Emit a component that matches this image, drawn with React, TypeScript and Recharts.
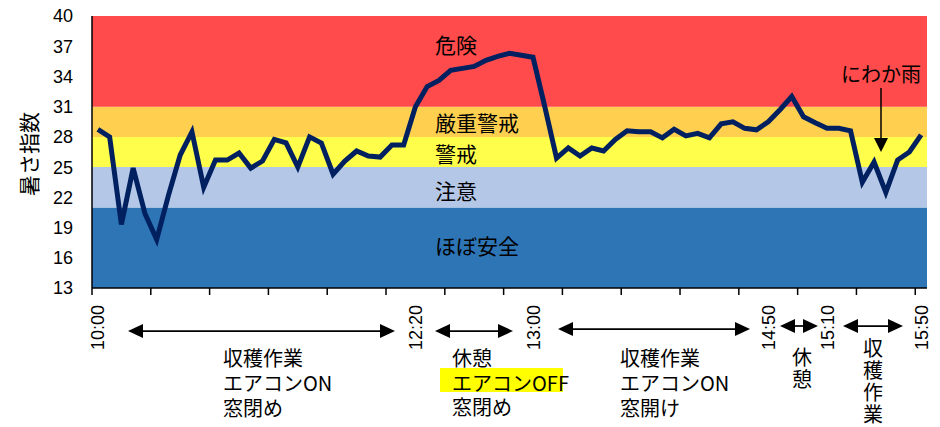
import React from 'react';
import { LineChart, Line, XAxis, YAxis, ReferenceArea } from 'recharts';

// 暑さ指数 (WBGT) readings, one per category, 10:00 -> 15:50
const wbgt = [
  28.75, 28.0, 19.3, 24.9, 20.4, 17.8, 22.2, 26.2, 28.5, 23.0,
  25.7, 25.7, 26.4, 24.9, 25.6, 27.75, 27.4, 25.0, 28.0, 27.4,
  24.3, 25.6, 26.6, 26.1, 26.0, 27.2, 27.2, 31.0, 33.0, 33.6,
  34.6, 34.8, 35.0, 35.6, 36.0, 36.3, 36.1, 35.9, 31.0, 25.9,
  26.9, 26.1, 26.9, 26.6, 27.75, 28.6, 28.5, 28.5, 27.9, 28.75,
  28.1, 28.35, 27.9, 29.3, 29.5, 28.85, 28.7, 29.5, 30.7, 32.0,
  30.0, 29.4, 28.85, 28.85, 28.6, 23.5, 25.5, 22.5, 25.7, 26.5,
  28.2,
];

const yTicks = [13, 16, 19, 22, 25, 28, 31, 34, 37, 40];

// category index where each time label sits
const timeLabels = [
  { at: 0, text: '10:00' },
  { at: 27, text: '12:20' },
  { at: 37, text: '13:00' },
  { at: 57, text: '14:50' },
  { at: 62, text: '15:10' },
  { at: 70, text: '15:50' },
];

// risk bands
const bands = [
  { from: 13, to: 21, color: '#2E75B6' },
  { from: 21, to: 25, color: '#B4C7E7' },
  { from: 25, to: 28, color: '#FFFF4B' },
  { from: 28, to: 31, color: '#FFD050' },
  { from: 31, to: 40, color: '#FF4B4B' },
];

const data = wbgt.map((v, i) => ({ i, v }));
const n = wbgt.length;
// tick marks sit on category boundaries, every 5 categories
const boundaryTicks = Array.from({ length: Math.floor(n / 5) + 1 }, (_, k) => k * 5 - 0.5);

const num = '"Liberation Sans", Arial, sans-serif';
const jp = '"Noto Sans CJK JP", "Noto Sans", sans-serif';

const TimeTick = (props: any) => {
  const { x, payload } = props;
  const item = timeLabels.find((t) => t.at === payload.value);
  return (
    <text
      transform={`translate(${x},305) rotate(-90)`}
      textAnchor="end"
      dy="0.36em"
      fontSize={18}
      fontFamily={num}
      fill="#000"
    >
      {item ? item.text : ''}
    </text>
  );
};

const Arrow2 = ({ x1, x2, y }: { x1: number; x2: number; y: number }) => (
  <g>
    <line x1={x1 + 10} x2={x2 - 10} y1={y} y2={y} stroke="#000" strokeWidth={1.75} />
    <polygon points={`${x1},${y} ${x1 + 15},${y - 7} ${x1 + 15},${y + 7}`} fill="#000" />
    <polygon points={`${x2},${y} ${x2 - 15},${y - 7} ${x2 - 15},${y + 7}`} fill="#000" />
  </g>
);

const T = ({ x, y, children, anchor = 'start', size = 20 }: any) => (
  <text x={x} y={y} dominantBaseline="central" textAnchor={anchor} fontSize={size} fontFamily={jp} fill="#000">
    {children}
  </text>
);

// several lines in one text element
const Block = ({ x, y, lines, step = 25 }: { x: number; y: number; lines: string[]; step?: number }) => (
  <text x={x} y={y} dominantBaseline="central" fontSize={20} fontFamily={jp} fill="#000">
    {lines.map((l, k) => (
      <tspan key={k} x={x} dy={k === 0 ? 0 : step}>
        {l}
      </tspan>
    ))}
  </text>
);

// top-to-bottom stacked text
const VT = ({ x, y, children, gap = 2.5 }: any) => (
  <text
    x={x}
    y={y}
    writingMode="vertical-rl"
    style={{ writingMode: 'vertical-rl' } as any}
    letterSpacing={gap}
    fontSize={20}
    fontFamily={jp}
    fill="#000"
  >
    {children}
  </text>
);

export default function App() {
  return (
    <div style={{ position: 'absolute', left: 0, top: 0, width: 940, height: 427 }}>
      <LineChart width={940} height={427} data={data} margin={{ top: 16, right: 13, bottom: 0, left: 0 }}>
        {bands.map((b) => (
          <ReferenceArea
            key={b.from}
            y1={b.from}
            y2={b.to}
            x1={-0.5}
            x2={n - 0.5}
            fill={b.color}
            fillOpacity={1}
            stroke="none"
          />
        ))}
        <XAxis
          dataKey="i"
          type="number"
          domain={[-0.5, n - 0.5]}
          ticks={boundaryTicks}
          interval={0}
          tickFormatter={() => ''}
          height={10}
          tickSize={7}
          axisLine={{ stroke: '#000', strokeWidth: 1.5 }}
          tickLine={{ stroke: '#000', strokeWidth: 1.5 }}
        />
        <XAxis
          xAxisId="time"
          dataKey="i"
          type="number"
          domain={[-0.5, n - 0.5]}
          ticks={timeLabels.map((t) => t.at)}
          interval={0}
          height={129}
          axisLine={false}
          tickLine={false}
          tick={<TimeTick />}
        />
        <YAxis
          domain={[13, 40]}
          ticks={yTicks}
          interval={0}
          width={92}
          tickLine={false}
          tickSize={0}
          tickMargin={19}
          axisLine={{ stroke: '#000', strokeWidth: 1.5 }}
          tick={{ fill: '#000', fontSize: 18, fontFamily: num }}
        />
        <Line
          dataKey="v"
          type="linear"
          stroke="#002060"
          strokeWidth={5}
          dot={false}
          isAnimationActive={false}
        />
      </LineChart>

      <svg
        width={940}
        height={427}
        style={{ position: 'absolute', left: 0, top: 0, pointerEvents: 'none' }}
      >
        {/* y axis title */}
        <text
          transform="translate(28,154) rotate(-90)"
          textAnchor="middle"
          dominantBaseline="central"
          fontSize={21}
          fontFamily={jp}
          fill="#000"
        >
          暑さ指数
        </text>

        {/* band names */}
        <T x={435} y={44} size={21}>危険</T>
        <T x={435} y={122} size={21}>厳重警戒</T>
        <T x={435} y={153} size={21}>警戒</T>
        <T x={435} y={190} size={21}>注意</T>
        <T x={435} y={245} size={21}>ほぼ安全</T>

        {/* にわか雨 */}
        <T x={841} y={73}>にわか雨</T>
        <line x1={881} x2={881} y1={88} y2={140} stroke="#000" strokeWidth={1.5} />
        <polygon points="874,138 888,138 881,152" fill="#000" />

        {/* work periods */}
        <Arrow2 x1={128} x2={395} y={331} />
        <Arrow2 x1={435} x2={513} y={331} />
        <Arrow2 x1={558} x2={750} y={329} />
        <Arrow2 x1={780} x2={818} y={326} />
        <Arrow2 x1={843} x2={903} y={326} />

        <Block x={223} y={357} lines={['収穫作業', 'エアコンON', '窓閉め']} />

        <rect x={440} y={368} width={123} height={24} fill="#FFFF00" />
        <Block x={452} y={357} step={24.5} lines={['休憩', 'エアコンOFF', '窓閉め']} />

        <Block x={620} y={357} lines={['収穫作業', 'エアコンON', '窓開け']} />

        <VT x={802} y={347} gap={2}>休憩</VT>
        <VT x={873} y={338} gap={2}>収穫作業</VT>
      </svg>
    </div>
  );
}
